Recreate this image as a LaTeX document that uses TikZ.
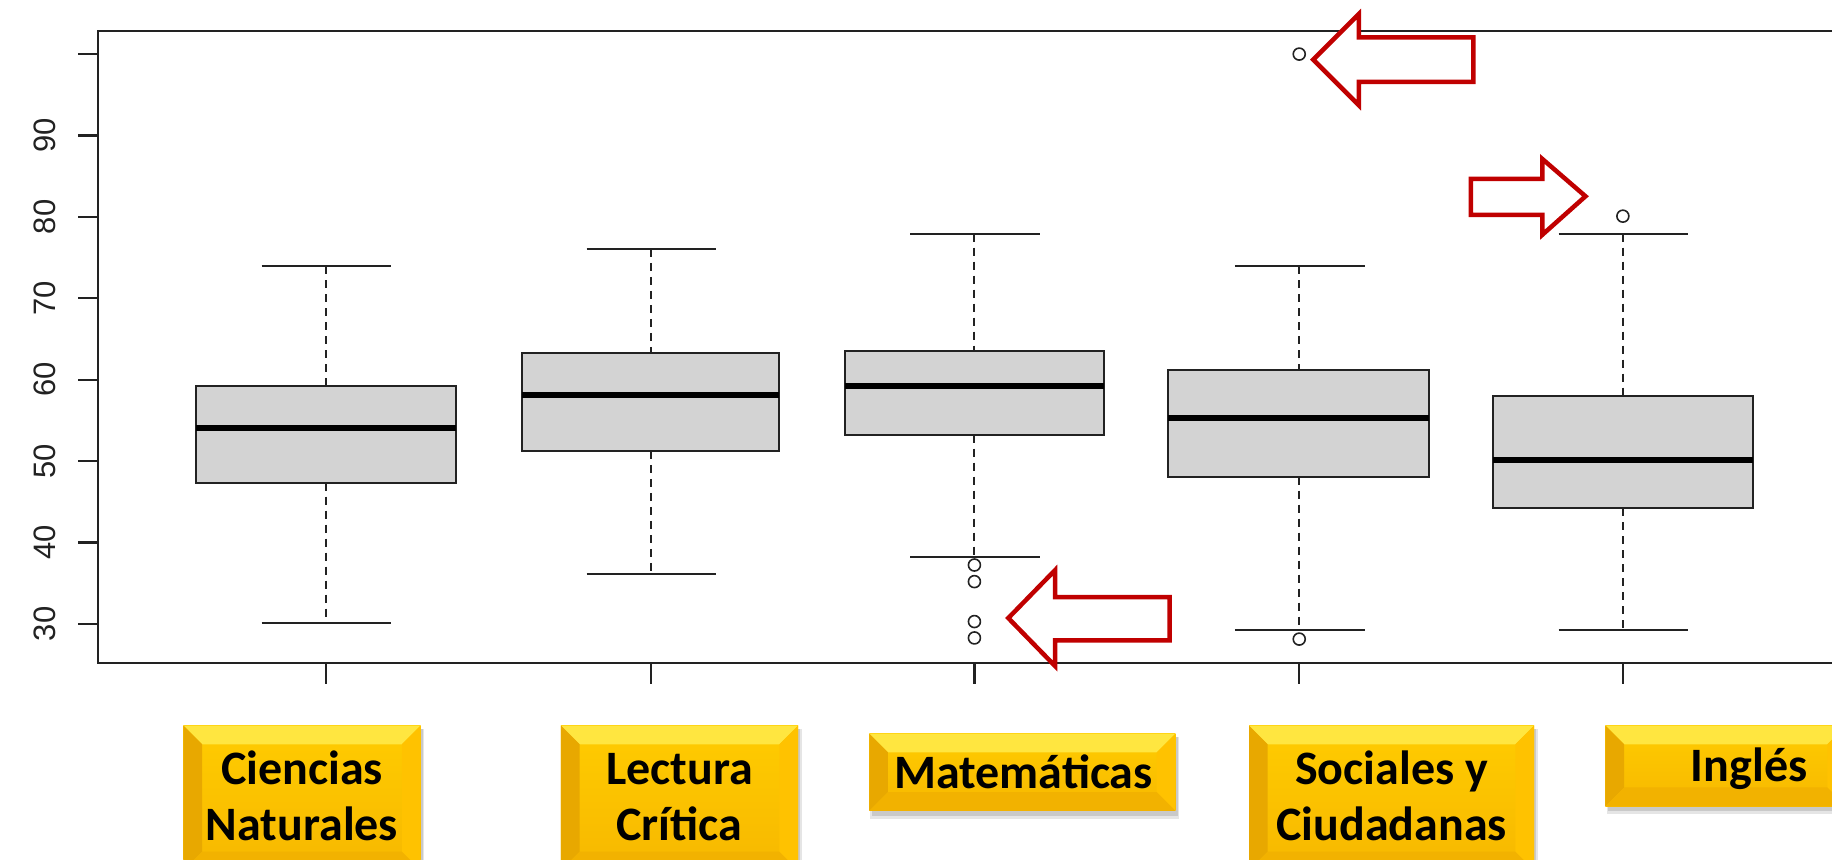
\documentclass[tikz,border=0pt]{standalone}
\usepackage{fontspec}
\newfontfamily\calib{Carlito}
\newfontfamily\arial{Liberation Sans}
\definecolor{arrred}{HTML}{C00000}
\definecolor{boxgray}{HTML}{D3D3D3}
\definecolor{ytop}{HTML}{FFE640}
\definecolor{yleft}{HTML}{E8A800}
\definecolor{yright}{HTML}{FFC200}
\definecolor{ybot}{HTML}{F2B200}
\definecolor{yfaceA}{HTML}{FFCC00}
\definecolor{yfaceB}{HTML}{F7B800}
\definecolor{ink}{HTML}{222222}
\newcommand{\bv}{16}
\newcommand{\yellowbox}[4]{%
  \fill[black, opacity=0.10] (#1+1,#2+3) rectangle (#3+3,#4+7);
  \fill[black, opacity=0.12] (#1+2,#2+3) rectangle (#3+2,#4+4);
  \shade[top color=yfaceA, bottom color=yfaceB] (#1,#2) rectangle (#3,#4);
  \fill[ytop] (#1,#2) -- (#3,#2) -- (#3-\bv,#2+\bv) -- (#1+\bv,#2+\bv) -- cycle;
  \fill[yleft] (#1,#2) -- (#1+\bv,#2+\bv) -- (#1+\bv,#4-\bv) -- (#1,#4) -- cycle;
  \fill[yright] (#3,#2) -- (#3-\bv,#2+\bv) -- (#3-\bv,#4-\bv) -- (#3,#4) -- cycle;
  \fill[ybot] (#1,#4) -- (#1+\bv,#4-\bv) -- (#3-\bv,#4-\bv) -- (#3,#4) -- cycle;
}
\tikzset{
  frameline/.style={line width=2.4pt, draw=ink},
  tickline/.style={line width=2.2pt, draw=ink},
  qbox/.style={draw=ink, fill=boxgray, line width=2pt},
  medianline/.style={line width=6pt, draw=black},
  whisk/.style={line width=2pt, dash pattern=on 8pt off 6pt, draw=ink},
  capline/.style={line width=2pt, draw=ink},
  outl/.style={draw=ink, line width=1.6pt, circle, minimum size=12pt, inner sep=0pt},
  callout/.style={draw=arrred, line width=4.5pt, fill=white, miter limit=10},
  ylab/.style={font=\arial\fontsize{31}{31}\selectfont, rotate=90, text=ink, inner sep=0pt},
  subj/.style={font=\calib\bfseries\fontsize{48}{56}\selectfont, align=center, inner sep=0pt, text=black}
}
\begin{document}
\begin{tikzpicture}[x=1.16837pt, y=-1.16837pt]
\useasboundingbox (0,0) rectangle (1568,736);
% frame
\draw[frameline] (1572,26.5) -- (84,26.5) -- (84,567.5) -- (1572,567.5);
% y ticks and labels
\foreach \v in {30,40,...,100} {
  \draw[tickline] (67,{46.3+(100-\v)*6.967}) -- (84,{46.3+(100-\v)*6.967});
}
\foreach \v in {30,40,...,90} {
  \node[ylab] (yl\v) at (38,{46.3+(100-\v)*6.967}) {\v};
}
% boxes
\foreach \cx/\bl/\br/\qt/\qb/\md/\wt/\wb/\cl/\cr in {
  279/168/390/330/413/366/228/533/224/335,
  557/447/667/302/386/338/213/491/502/613,
  834/723/945/300/372/330/200/477/779/890,
  1112/1000/1223/317/408/358/228/539/1057/1168,
  1389/1278/1500/339/435/394/200/539/1334/1445} {
  \draw[whisk] (\cx,\wt) -- (\cx,\qt);
  \draw[whisk] (\cx,\qb) -- (\cx,\wb);
  \draw[capline] (\cl,\wt) -- (\cr,\wt);
  \draw[capline] (\cl,\wb) -- (\cr,\wb);
  \draw[qbox] (\bl,\qt) rectangle (\br,\qb);
  \draw[medianline] (\bl,\md) -- (\br,\md);
  \draw[tickline] (\cx,567.5) -- (\cx,585);
}
% outliers
\node[outl] (m1) at (834,483.6) {};
\node[outl] (m2) at (834,497.8) {};
\node[outl] (m3) at (834,532) {};
\node[outl] (m4) at (834,546) {};
\node[outl] (s1) at (1112,547) {};
\node[outl] (s2) at (1112,46.3) {};
\node[outl] (i1) at (1389,185) {};
% red callout arrows
\draw[callout] (1124,51) -- (1163,12) -- (1163,32) -- (1261,32) -- (1261,70) -- (1163,70) -- (1163,90) -- cycle;
\draw[callout] (863,529) -- (903,488) -- (903,511) -- (1001,511) -- (1001,548) -- (903,548) -- (903,570) -- cycle;
\draw[callout] (1357,168) -- (1320,136) -- (1320,153) -- (1259,153) -- (1259,184) -- (1320,184) -- (1320,201) -- cycle;
% subject labels
\yellowbox{157}{621}{360}{745}
\yellowbox{480}{621}{683}{745}
\yellowbox{744}{628}{1006}{694}
\yellowbox{1069}{621}{1313}{745}
\yellowbox{1374}{621}{1580}{690}
\node[subj, anchor=base] (cn) at (258.5,719) {Ciencias\\Naturales};
\node[subj, anchor=base] (lc) at (581.5,719) {Lectura\\Crítica};
\node[subj, anchor=base] (ma) at (876,675) {Matemáticas};
\node[subj, anchor=base] (sc) at (1191,719) {Sociales y\\Ciudadanas};
\node[subj, anchor=base] (in) at (1497,669) {Inglés};
\end{tikzpicture}
\end{document}
